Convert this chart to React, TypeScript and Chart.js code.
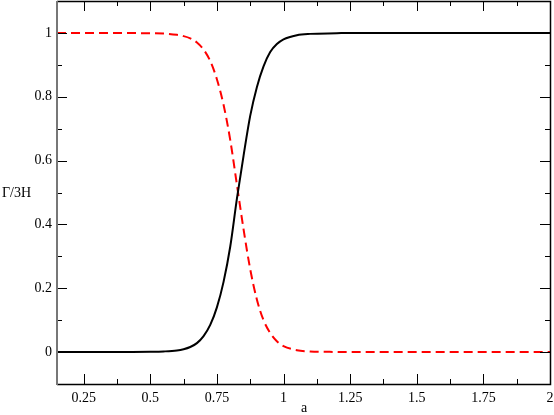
import React, { useEffect, useRef } from "react";
import { Chart, registerables } from "chart.js";

Chart.register(...registerables);

const xBlack = [0.15, 0.3, 0.4, 0.5, 0.55, 0.6, 0.625, 0.65, 0.675, 0.7, 0.725, 0.75, 0.775, 0.8, 0.825, 0.85, 0.875, 0.9, 0.925, 0.95, 0.975, 1.0, 1.05, 1.1, 1.2, 1.25, 1.5, 2.0];
const yBlack = [0, 0, 0.0005, 0.001, 0.002, 0.005, 0.009, 0.016, 0.028, 0.05, 0.085, 0.14, 0.22, 0.33, 0.48, 0.615, 0.74, 0.83, 0.895, 0.94, 0.965, 0.98, 0.993, 0.997, 0.999, 1, 1, 1];

const xRed = [0.15, 0.4, 0.5, 0.55, 0.6, 0.625, 0.65, 0.675, 0.7, 0.725, 0.75, 0.775, 0.8, 0.825, 0.85, 0.875, 0.9, 0.925, 0.95, 0.975, 1.0, 1.05, 1.1, 1.2, 1.25, 1.5, 2.0];
const yRed = [1, 0.9995, 0.999, 0.998, 0.994, 0.99, 0.983, 0.97, 0.948, 0.912, 0.855, 0.775, 0.665, 0.525, 0.385, 0.26, 0.165, 0.1, 0.06, 0.034, 0.019, 0.006, 0.002, 0.0005, 0, 0, 0];

const xTicks = [0.25, 0.5, 0.75, 1, 1.25, 1.5, 1.75, 2];
const yTicks = [0, 0.2, 0.4, 0.6, 0.8, 1];
const xMinor = [0.125, 0.375, 0.625, 0.875, 1.125, 1.375, 1.625, 1.875];
const yMinor = [-0.1, 0.1, 0.3, 0.5, 0.7, 0.9, 1.1];

const xTitle = "a";
const yTitle = "Γ/3H";

const FONT = "'Liberation Serif', 'Times New Roman', serif";

export default function App() {
  const ref = useRef<HTMLCanvasElement>(null);
  useEffect(() => {
    const ctx = ref.current!.getContext("2d")!;
    const framePlugin = {
      id: "frame",
      afterDraw(chart: any) {
        const c = chart.ctx;
        const a = chart.chartArea;
        const xs = chart.scales.x;
        const ys = chart.scales.y;
        c.save();
        c.strokeStyle = "#000";
        c.lineWidth = 1;
        const drawX = (v: number, len: number) => {
          const p = Math.round(xs.getPixelForValue(v)) + 0.5;
          if (p < a.left || p > a.right + 1) return;
          c.beginPath();
          c.moveTo(p, a.bottom);
          c.lineTo(p, a.bottom - len);
          c.moveTo(p, a.top);
          c.lineTo(p, a.top + len);
          c.stroke();
        };
        const drawY = (v: number, len: number) => {
          const p = Math.round(ys.getPixelForValue(v)) + 0.5;
          if (p < a.top || p > a.bottom + 1) return;
          c.beginPath();
          c.moveTo(a.left, p);
          c.lineTo(a.left + len, p);
          c.moveTo(a.right, p);
          c.lineTo(a.right - len, p);
          c.stroke();
        };
        xTicks.forEach((v) => drawX(v, 10));
        xMinor.forEach((v) => drawX(v, 5));
        yTicks.forEach((v) => drawY(v, 10));
        yMinor.forEach((v) => drawY(v, 5));
        c.lineWidth = 1.5;
        c.beginPath();
        c.moveTo(a.left, a.bottom + 0.5);
        c.lineTo(a.right + 0.5, a.bottom + 0.5);
        c.lineTo(a.right + 0.5, a.top + 0.5);
        c.lineTo(a.left, a.top + 0.5);
        c.stroke();
        c.strokeStyle = "#777";
        c.lineWidth = 2;
        c.beginPath();
        c.moveTo(a.left, a.top);
        c.lineTo(a.left, a.bottom + 1);
        c.stroke();
        c.fillStyle = "#000";
        c.font = "14px " + FONT;
        c.textAlign = "left";
        c.textBaseline = "middle";
        c.fillText(yTitle, 2, 193);
        c.textAlign = "center";
        c.fillText(xTitle, 304, 408);
        c.restore();
      },
    };
    const chart = new Chart(ctx, {
      type: "scatter",
      data: {
        datasets: [
          {
            data: xBlack.map((x, i) => ({ x, y: yBlack[i] })),
            showLine: true,
            borderColor: "#000",
            borderWidth: 2,
            pointRadius: 0,
            cubicInterpolationMode: "monotone",
          },
          {
            data: xRed.map((x, i) => ({ x, y: yRed[i] })),
            showLine: true,
            borderColor: "#ff0000",
            borderWidth: 2,
            borderDash: [9, 5],
            pointRadius: 0,
            cubicInterpolationMode: "monotone",
          },
        ],
      },
      options: {
        animation: false,
        responsive: false,
        layout: { padding: { top: 1, right: 4, left: 0, bottom: 0 } },
        plugins: { legend: { display: false }, tooltip: { enabled: false } },
        scales: {
          x: {
            type: "linear",
            min: 0.15,
            max: 2,
            afterBuildTicks: (s: any) => {
              s.ticks = xTicks.map((v) => ({ value: v }));
            },
            afterFit: (s: any) => {
              s.height = 31;
              s.paddingLeft = 0;
              s.paddingRight = 0;
            },
            grid: { display: false, drawTicks: false },
            border: { display: false },
            ticks: {
              color: "#000",
              font: { family: FONT, size: 14 },
              padding: 6,
              maxRotation: 0,
              callback: (v: any) => String(v),
            },
          },
          y: {
            type: "linear",
            min: -0.1,
            max: 1.1,
            afterBuildTicks: (s: any) => {
              s.ticks = yTicks.map((v) => ({ value: v }));
            },
            afterFit: (s: any) => {
              s.width = 57;
              s.paddingTop = 0;
              s.paddingBottom = 0;
            },
            grid: { display: false, drawTicks: false },
            border: { display: false },
            ticks: {
              color: "#000",
              font: { family: FONT, size: 14 },
              padding: 5,
              callback: (v: any) => String(v),
            },
          },
        },
      },
      plugins: [framePlugin],
    } as any);
    return () => chart.destroy();
  }, []);
  return (
    <div style={{ position: "absolute", left: 0, top: 0, width: 554, height: 415, background: "#fff" }}>
      <canvas ref={ref} width={554} height={415} />
    </div>
  );
}
